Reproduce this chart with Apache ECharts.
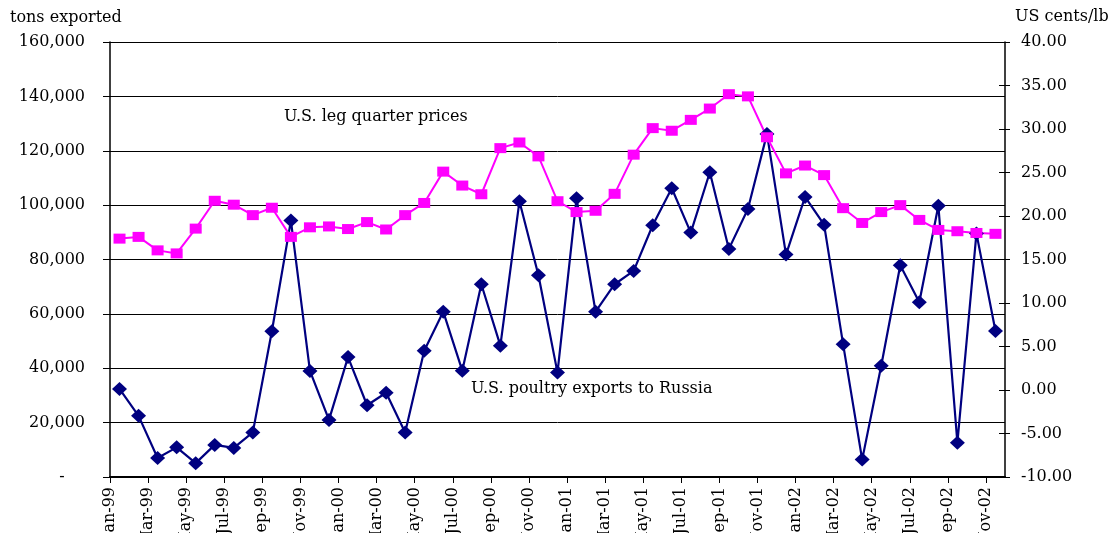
<!DOCTYPE html>
<html>
<head>
<meta charset="utf-8">
<script src="https://cdn.jsdelivr.net/npm/echarts@6/dist/echarts.min.js"></script>
<style>
html,body{margin:0;padding:0;background:#fff;}
#chart{width:1114px;height:533px;}
</style>
</head>
<body>
<div id="chart"></div>
<script>
const months = ['Jan-99','Feb-99','Mar-99','Apr-99','May-99','Jun-99','Jul-99','Aug-99','Sep-99','Oct-99','Nov-99','Dec-99',
'Jan-00','Feb-00','Mar-00','Apr-00','May-00','Jun-00','Jul-00','Aug-00','Sep-00','Oct-00','Nov-00','Dec-00',
'Jan-01','Feb-01','Mar-01','Apr-01','May-01','Jun-01','Jul-01','Aug-01','Sep-01','Oct-01','Nov-01','Dec-01',
'Jan-02','Feb-02','Mar-02','Apr-02','May-02','Jun-02','Jul-02','Aug-02','Sep-02','Oct-02','Nov-02'];

const exportsTons = [32400,22500,7000,10900,5100,11800,10700,16400,53600,94300,39000,21000,
44100,26400,31000,16400,46400,60800,39100,70900,48300,101400,74200,38400,
102500,60800,70900,75800,92600,106200,89900,112100,83900,98600,126200,81800,
103000,92800,48800,6400,40900,77900,64300,99800,12600,89600,53700];

const legQuarterPrices = [17.4,17.6,16.05,15.7,18.55,21.75,21.3,20.1,20.95,17.6,18.7,18.8,
18.5,19.3,18.45,20.1,21.5,25.1,23.5,22.5,27.8,28.45,26.85,21.7,
20.45,20.6,22.55,27.05,30.1,29.8,31.05,32.35,34.0,33.75,29.05,24.9,
25.8,24.7,20.9,19.2,20.45,21.25,19.55,18.4,18.25,18.05,17.95];

const leftTicks = {min:0, max:160000, interval:20000};
const rightTicks = {min:-10, max:40, interval:5};

const FONT = 'DejaVu Serif';
const chart = echarts.init(document.getElementById('chart'));
chart.setOption({
  animation:false,
  backgroundColor:'#fff',
  textStyle:{fontFamily:FONT},
  grid:{left:110,right:109,top:42,bottom:56,containLabel:false,outerBoundsMode:'none'},
  graphic:[
    {type:'text',left:10,top:10,style:{text:'tons exported',font:'16px "DejaVu Serif"',fill:'#000'}},
    {type:'text',left:1015,top:9,style:{text:'US cents/lb',font:'16px "DejaVu Serif"',fill:'#000'}},
    {type:'text',left:284,top:109,style:{text:'U.S. leg quarter prices',font:'16px "DejaVu Serif"',fill:'#000'}},
    {type:'text',left:471,top:381,style:{text:'U.S. poultry exports to Russia',font:'16px "DejaVu Serif"',fill:'#000'}}
  ],
  xAxis:[
    {type:'category',data:months,position:'top',boundaryGap:true,
     axisLine:{show:true,lineStyle:{color:'#000',width:2}},axisTick:{show:false},axisLabel:{show:false},splitLine:{show:false}},
    {type:'value',position:'bottom',min:0,max:months.length,interval:2,
     axisLine:{show:true,onZero:false,lineStyle:{color:'#000',width:1.5}},
     axisTick:{show:true,inside:false,length:6,lineStyle:{color:'#000'}},
     splitLine:{show:false},
     axisLabel:{rotate:90,margin:10,color:'#000',fontFamily:FONT,fontSize:16,showMaxLabel:false,
       formatter:function(v){return (v%2===0 && months[v]) ? months[v] : '';}}}
  ],
  yAxis:[
    {type:'value',position:'left',min:leftTicks.min,max:leftTicks.max,interval:leftTicks.interval,
     axisLine:{show:true,lineStyle:{color:'#000',width:1.5}},
     axisTick:{show:true,inside:false,length:7,lineStyle:{color:'#000'}},
     splitLine:{show:true,lineStyle:{color:'#000',width:1}},
     axisLabel:{margin:25,color:'#000',fontFamily:FONT,fontSize:16,
       formatter:function(v){return v===0?'-    ':v.toLocaleString('en-US');}}},
    {type:'value',position:'right',min:rightTicks.min,max:rightTicks.max,interval:rightTicks.interval,
     axisLine:{show:true,lineStyle:{color:'#000',width:1.5}},
     axisTick:{show:true,inside:false,length:5,lineStyle:{color:'#000'}},
     splitLine:{show:false},
     axisLabel:{margin:16,color:'#000',fontFamily:FONT,fontSize:16,
       formatter:function(v){return v.toFixed(2);}}},
    {type:'value',position:'right',min:rightTicks.min,max:rightTicks.max,interval:rightTicks.interval,
     axisLine:{show:false},axisTick:{show:true,inside:true,length:6,lineStyle:{color:'#000'}},
     splitLine:{show:false},axisLabel:{show:false}}
  ],
  series:[
    {name:'U.S. poultry exports to Russia',type:'line',xAxisIndex:0,yAxisIndex:0,data:exportsTons,
     symbol:'diamond',symbolSize:[15,14],showAllSymbol:true,
     lineStyle:{color:'#000080',width:2.2},itemStyle:{color:'#000080'}},
    {name:'U.S. leg quarter prices',type:'line',xAxisIndex:0,yAxisIndex:1,data:legQuarterPrices,
     symbol:'rect',symbolSize:[12,10],showAllSymbol:true,
     lineStyle:{color:'#FF00FF',width:2},itemStyle:{color:'#FF00FF'}}
  ]
});
</script>
</body>
</html>
